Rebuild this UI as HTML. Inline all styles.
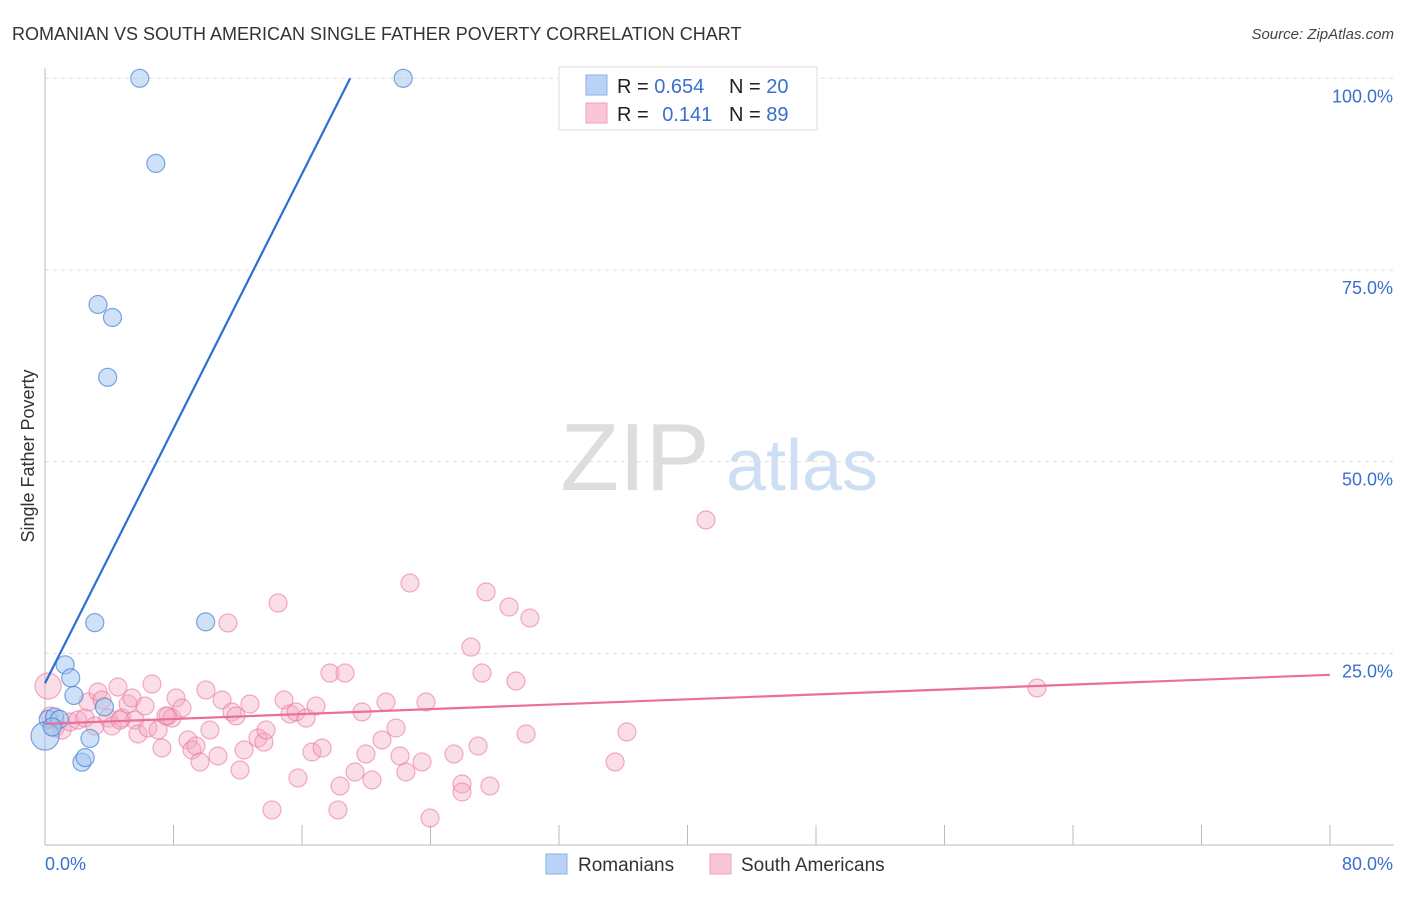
<!DOCTYPE html>
<html><head><meta charset="utf-8"><style>
body{margin:0;background:#fff;font-family:"Liberation Sans",sans-serif;}
svg text{font-family:"Liberation Sans",sans-serif;}
</style></head><body>
<svg id="chart" width="1406" height="892" xmlns="http://www.w3.org/2000/svg">
<text x="12" y="40" font-size="18" fill="#333">ROMANIAN VS SOUTH AMERICAN SINGLE FATHER POVERTY CORRELATION CHART</text>
<text x="1394" y="39" font-size="15" fill="#444" text-anchor="end" font-style="italic">Source: ZipAtlas.com</text>
<text transform="translate(34,456) rotate(-90)" font-size="18" fill="#333" text-anchor="middle">Single Father Poverty</text>
<g>
<text x="635" y="490" font-size="96" fill="#ddd" font-family="Liberation Serif" text-anchor="middle">ZIP</text>
<text x="802" y="490" font-size="72" fill="#cfdff3" text-anchor="middle">atlas</text>
</g>
<g id="grid"></g><g id="axes"></g><g id="pts"></g><g id="lines"></g>
<g>
<rect x="559" y="67" width="258" height="63" fill="#fff" stroke="#ddd"/>
<rect x="586" y="75" width="21" height="20" fill="#b8d3f5" stroke="#8ab2e8"/>
<rect x="586" y="103" width="21" height="20" fill="#f9c6d6" stroke="#f0a0ba"/>
<text x="617" y="93" font-size="20" fill="#222">R = <tspan fill="#3a6fd0">0.654</tspan></text>
<text x="729" y="93" font-size="20" fill="#222">N = <tspan fill="#3a6fd0">20</tspan></text>
<text x="617" y="121" font-size="20" fill="#222">R = <tspan fill="#3a6fd0" dx="8">0.141</tspan></text>
<text x="729" y="121" font-size="20" fill="#222">N = <tspan fill="#3a6fd0">89</tspan></text>
</g>
<g>
<rect x="546" y="854" width="21" height="20" fill="#b8d3f5" stroke="#8ab2e8"/>
<text x="578" y="871" font-size="19" fill="#333">Romanians</text>
<rect x="710" y="854" width="21" height="20" fill="#f9c6d6" stroke="#f0a0ba"/>
<text x="741" y="871" font-size="19" fill="#333">South Americans</text>
</g>
</svg>
<script>
const yTicks=[25,50,75,100];
const yTickLabels=["25.0%","50.0%","75.0%","100.0%"];
const xTicks=[0,8,16,24,32,40,48,56,64,72,80];
const romX=[5.9,22.3,6.9,3.3,4.2,3.9,3.1,10.0,1.25,1.6,1.8,3.7,2.8,2.3,2.5,0.2,0.6,0.9,0.0,0.45];
const romY=[100,100,88.9,70.5,68.8,61.0,29.0,29.1,23.5,21.8,19.5,18.0,13.9,10.8,11.4,16.4,16.7,16.4,14.2,15.4];
const romR=[9,9,9,9,9,9,9,9,9,9,9,9,9,9,9,9,9,9,14,9];
const saPx=[48,50,55,62,70,78,85,88,95,98,102,108,112,118,122,128,132,135,138,145,148,152,158,162,168,172,176,182,188,192,196,200,206,210,218,222,232,236,240,244,250,258,264,266,272,278,284,290,296,298,306,312,316,322,330,338,340,345,355,362,366,372,382,386,396,400,406,410,422,426,430,454,462,462,471,478,482,486,490,509,516,526,530,615,627,706,1037,228,166,120];
const saPy=[686,716,728,730,722,720,718,702,726,692,700,718,726,687,718,704,698,720,734,706,728,684,730,748,716,718,698,708,740,750,746,762,690,730,756,700,712,716,770,750,704,738,742,730,810,603,700,714,712,778,718,752,706,748,673,810,786,673,772,712,754,780,740,702,728,756,772,583,762,702,818,754,784,792,647,746,673,592,786,607,681,734,618,762,732,520,688,623,716,720];
const saX=saPx.map(p=>+((p-45)/16.0625).toFixed(2));
const saY=saPy.map(p=>+((845-p)/7.667).toFixed(2));
const romLine=[[0,21.1],[19.0,100]];
const saLine=[[0,15.8],[80,22.2]];
const X=v=>45+v*16.0625, Y=v=>845-v*7.667;
const NS="http://www.w3.org/2000/svg";
function mk(t,a,p){const e=document.createElementNS(NS,t);for(const k in a)e.setAttribute(k,a[k]);p.appendChild(e);return e;}
const grid=document.getElementById('grid'),axes=document.getElementById('axes'),pts=document.getElementById('pts'),lines=document.getElementById('lines');
yTicks.forEach((v,i)=>{
 const g=mk('line',{x1:45,x2:1394,y1:Y(v),y2:Y(v),stroke:'#ddd','stroke-dasharray':'4,4'},grid);
 
 
 const t=mk('text',{x:1393,y:Y(v)+24,'font-size':18,fill:'#3a6fd0','text-anchor':'end'},axes);
 t.textContent=yTickLabels[i];
 
 
});
const ax=mk('line',{x1:45,x2:45,y1:68,y2:845,stroke:'#bbb'},axes);


const bx=mk('line',{x1:45,x2:1394,y1:845,y2:845,stroke:'#bbb'},axes);


xTicks.forEach(v=>{const t=mk('line',{x1:X(v),x2:X(v),y1:825,y2:845,stroke:'#bbb'},axes);
 
 });
const l0=mk('text',{x:45,y:870,'font-size':18,fill:'#3a6fd0'},axes);l0.textContent='0.0%';


const l1=mk('text',{x:1393,y:870,'font-size':18,fill:'#3a6fd0','text-anchor':'end'},axes);l1.textContent='80.0%';


saX.forEach((x,i)=>{const c=mk('circle',{cx:X(x),cy:Y(saY[i]),r:i===0?13:9,fill:'rgba(246,170,195,0.4)',stroke:'rgba(232,120,160,0.6)','stroke-width':1.2},pts);
 
 });
romX.forEach((x,i)=>{const c=mk('circle',{cx:X(x),cy:Y(romY[i]),r:romR[i],fill:'rgba(160,195,240,0.5)',stroke:'rgba(70,130,210,0.7)','stroke-width':1.2},pts);
 
 });
const rl=mk('line',{x1:X(romLine[0][0]),y1:Y(romLine[0][1]),x2:X(romLine[1][0]),y2:Y(romLine[1][1]),stroke:'#2a6fd6','stroke-width':2.2},lines);


const sl=mk('line',{x1:X(saLine[0][0]),y1:Y(saLine[0][1]),x2:X(saLine[1][0]),y2:Y(saLine[1][1]),stroke:'#e8709a','stroke-width':2.2},lines);


</script>
</body></html>
